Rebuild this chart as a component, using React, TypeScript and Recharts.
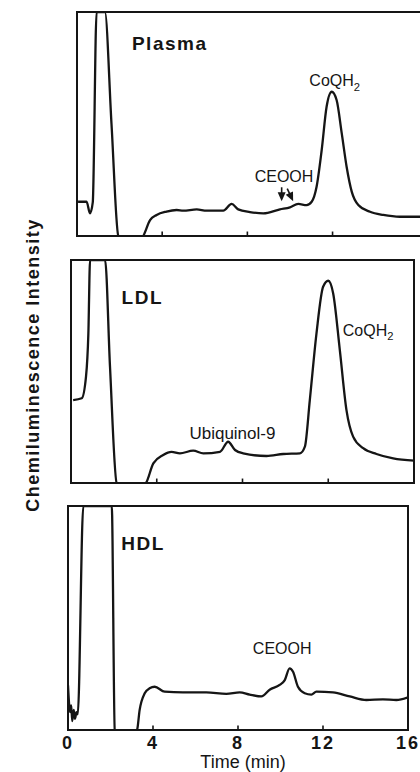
import React from "react";
import {
  LineChart,
  Line,
  XAxis,
  YAxis,
  ReferenceArea,
  ReferenceLine,
  ReferenceDot,
} from "recharts";

const FONT = '"Liberation Sans", Arial, Helvetica, sans-serif';
const INK = "#151515";

// time (min) / signal (% of panel height, >100 and <0 get clipped)
const PLASMA_TIME = [
  0.05, 0.45, 0.61, 0.74, 0.92, 1.31, 1.62, 1.94, 2.5, 3.11, 3.43, 3.74, 4.2,
  4.68, 4.99, 5.62, 6.09, 6.87, 7.26, 7.57, 8.12, 8.75, 9.53, 10.0, 10.39,
  10.78, 11.02, 11.25, 11.49, 11.72, 11.96, 12.19, 12.43, 12.66, 12.9, 13.21,
  13.76, 14.38, 15.16, 16.2,
];
const PLASMA_SIGNAL = [
  15.3, 15.3, 10.1, 15, 100, 100, 50, 0, -5, 0, 7.1, 9.4, 10.9, 11.6, 11.3,
  11.9, 11.3, 11.3, 14.3, 11.9, 10.7, 10.1, 11.9, 12.8, 14.3, 13.8, 15.3, 22,
  38.4, 57.7, 64.4, 60.7, 45.9, 30.9, 19.8, 13.8, 10.8, 9.4, 8.6, 8.6,
];

const LDL_TIME = [
  0.1, 0.5, 0.7, 0.81, 0.89, 1.59, 1.82, 2.13, 2.8, 3.5, 3.84, 4.3, 4.69, 5.08,
  5.7, 6.17, 6.95, 7.33, 7.65, 8.03, 9.12, 9.9, 10.68, 10.91, 11.14, 11.45,
  11.76, 12.0, 12.23, 12.54, 12.85, 13.16, 13.63, 14.25, 15.03, 16,
];
const LDL_SIGNAL = [
  37.2, 38, 47.7, 67, 100, 100, 52, 0, -5, 0, 8.8, 12.6, 14, 13.3, 14.5, 13.3,
  14, 18.5, 14.8, 13.3, 12.1, 13, 13.3, 16.3, 37.2, 67, 88, 90.7, 85, 59.6,
  32.7, 20.8, 15.6, 13, 11, 10,
];

const HDL_TIME = [
  0, 0.1, 0.15, 0.2, 0.27, 0.33, 0.4, 0.46, 0.72, 2.06, 2.2, 2.7, 3.25, 3.37,
  3.61, 3.84, 4.08, 4.55, 5.41, 6.51, 7.45, 8.08, 8.55, 9.1, 9.49, 9.96, 10.2,
  10.43, 10.59, 10.82, 11.14, 11.45, 11.69, 12.47, 13.26, 14.04, 14.82, 15.45,
  16,
];
const HDL_SIGNAL = [
  20, 8, 11, 4, 9, 5, 8, 7, 100, 100, 0, -5, 0, 8.9, 16.4, 18.6, 19.3, 17.1,
  16.8, 16.8, 16.1, 16.8, 15.8, 15, 18, 20.1, 22.3, 27.5, 26, 19.3, 16.4, 15.8,
  17.1, 16.8, 15, 13.4, 13.7, 13.4, 14.6,
];

const TIME_TICKS = [0, 4, 8, 12, 16];
const INNER_TICKS = [4, 8, 12];
const CEOOH_ARROWS = [9.61, 10.15];

const zip = (t: number[], v: number[]) => t.map((x, i) => ({ t: x, v: v[i] }));

const textShape =
  (label: string, size: number, opts: { bold?: boolean; anchor?: string; sub?: string; spacing?: number } = {}) =>
  (p: any) =>
    (
      <text
        x={p.cx}
        y={p.cy}
        textAnchor={opts.anchor ?? "middle"}
        dominantBaseline="central"
        fontFamily={FONT}
        fontSize={size}
        fontWeight={opts.bold ? 700 : 400}
        letterSpacing={opts.spacing ?? 0}
        fill={INK}
      >
        {label}
        {opts.sub ? (
          <tspan dy={size * 0.4} fontSize={size * 0.7}>
            {opts.sub}
          </tspan>
        ) : null}
      </text>
    );

const arrowShape = (tilt: number) => (p: any) =>
  (
    <g transform={`rotate(${tilt} ${p.cx} ${p.cy})`}>
      <line x1={p.cx} y1={p.cy - 14} x2={p.cx} y2={p.cy - 6} stroke={INK} strokeWidth={1.6} />
      <path d={`M${p.cx - 4},${p.cy - 9} L${p.cx + 4},${p.cy - 9} L${p.cx},${p.cy} Z`} fill={INK} />
    </g>
  );

function Frame({ xMax }: { xMax: number }) {
  return (
    <>
      <ReferenceArea x1={0} x2={xMax} y1={0} y2={100} fill="none" stroke={INK} strokeWidth={2} />
      {INNER_TICKS.map((t) => (
        <ReferenceLine
          key={t}
          segment={[
            { x: t, y: 0 },
            { x: t, y: 2 },
          ]}
          stroke={INK}
          strokeWidth={1.6}
        />
      ))}
    </>
  );
}

export default function App() {
  return (
    <div
      style={{
        position: "absolute",
        left: 0,
        top: 0,
        width: 420,
        height: 772,
        overflow: "hidden",
        background: "#fff",
      }}
    >
      <svg width={60} height={772} style={{ position: "absolute", left: 0, top: 0 }}>
        <text
          transform="translate(33,365) rotate(-90)"
          textAnchor="middle"
          dominantBaseline="central"
          fontFamily={FONT}
          fontSize={18}
          fontWeight={700}
          letterSpacing={1.5}
          fill={INK}
        >
          Chemiluminescence Intensity
        </text>
      </svg>

      {/* Plasma */}
      <div style={{ position: "absolute", left: 0, top: 0 }}>
        <LineChart width={424} height={240} data={zip(PLASMA_TIME, PLASMA_SIGNAL)} margin={{ top: 12, right: 2, bottom: 4, left: 77 }}>
          <XAxis dataKey="t" type="number" domain={[0, 16.2]} allowDataOverflow hide />
          <YAxis type="number" domain={[0, 100]} allowDataOverflow hide />
          <Frame xMax={16.2} />
          <Line dataKey="v" type="monotone" stroke={INK} strokeWidth={2.3} dot={false} isAnimationActive={false} />
          <ReferenceDot x={2.58} y={86} r={0} shape={textShape("Plasma", 19, { bold: true, anchor: "start", spacing: 1.5 })} />
          <ReferenceDot x={12.1} y={69.5} r={0} shape={textShape("CoQH", 16, { sub: "2" })} />
          <ReferenceDot x={9.72} y={26.5} r={0} shape={textShape("CEOOH", 16)} />
          {CEOOH_ARROWS.map((t, i) => (
            <ReferenceDot key={t} x={t} y={15.5} r={0} shape={arrowShape(i === 0 ? 0 : -25)} />
          ))}
        </LineChart>
      </div>

      {/* LDL */}
      <div style={{ position: "absolute", left: 0, top: 250 }}>
        <LineChart width={420} height={240} data={zip(LDL_TIME, LDL_SIGNAL)} margin={{ top: 10, right: 6, bottom: 7, left: 71 }}>
          <XAxis dataKey="t" type="number" domain={[0, 16]} allowDataOverflow hide />
          <YAxis type="number" domain={[0, 100]} allowDataOverflow hide />
          <Frame xMax={16} />
          <Line dataKey="v" type="monotone" stroke={INK} strokeWidth={2.3} dot={false} isAnimationActive={false} />
          <ReferenceDot x={2.36} y={83} r={0} shape={textShape("LDL", 19, { bold: true, anchor: "start", spacing: 1.5 })} />
          <ReferenceDot x={12.68} y={68.6} r={0} shape={textShape("CoQH", 16, { sub: "2", anchor: "start" })} />
          <ReferenceDot x={7.53} y={22.4} r={0} shape={textShape("Ubiquinol-9", 17)} />
        </LineChart>
      </div>

      {/* HDL */}
      <div style={{ position: "absolute", left: 0, top: 496 }}>
        <LineChart width={420} height={276} data={zip(HDL_TIME, HDL_SIGNAL)} margin={{ top: 10, right: 12, bottom: 0, left: 68 }}>
          <XAxis
            dataKey="t"
            type="number"
            domain={[0, 16]}
            allowDataOverflow
            ticks={TIME_TICKS}
            interval={0}
            height={42}
            axisLine={false}
            tickLine={false}
            tickSize={4}
            tick={{ fill: INK, fontSize: 18, fontWeight: 700, fontFamily: FONT, letterSpacing: 2 }}
            label={{
              value: "Time (min)",
              position: "insideBottom",
              offset: 4,
              dx: 5,
              style: { fill: INK, fontSize: 18, fontFamily: FONT },
            }}
          />
          <YAxis type="number" domain={[0, 100]} allowDataOverflow hide />
          <Frame xMax={16} />
          <Line dataKey="v" type="monotone" stroke={INK} strokeWidth={2.3} dot={false} isAnimationActive={false} />
          <ReferenceDot x={2.51} y={83.3} r={0} shape={textShape("HDL", 19, { bold: true, anchor: "start", spacing: 1.5 })} />
          <ReferenceDot x={10.08} y={36.5} r={0} shape={textShape("CEOOH", 16)} />
        </LineChart>
      </div>
    </div>
  );
}
